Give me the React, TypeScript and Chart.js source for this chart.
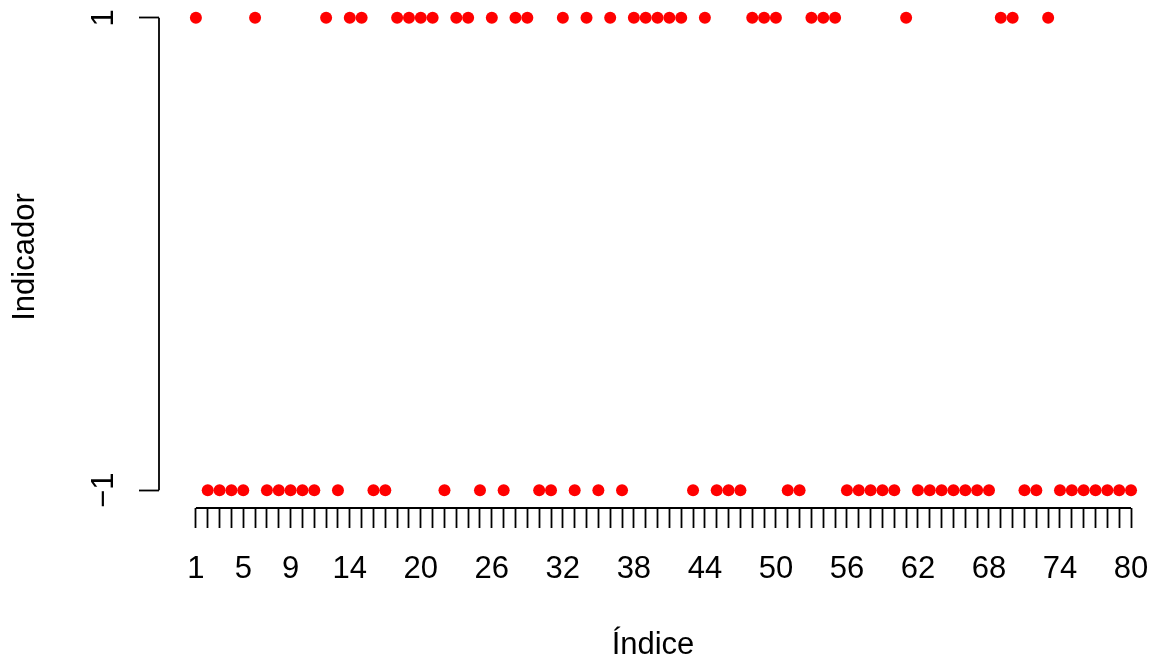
import React, { useEffect, useRef } from "react";
import { Chart, registerables } from "chart.js";

Chart.register(...registerables);

// Indicator value for each index 1..80
const indicatorValues: number[] = [
  1, -1, -1, -1, -1, 1, -1, -1, -1, -1,
  -1, 1, -1, 1, 1, -1, -1, 1, 1, 1,
  1, -1, 1, 1, -1, 1, -1, 1, 1, -1,
  -1, 1, -1, 1, -1, 1, -1, 1, 1, 1,
  1, 1, -1, 1, -1, -1, -1, 1, 1, 1,
  -1, -1, 1, 1, 1, -1, -1, -1, -1, -1,
  1, -1, -1, -1, -1, -1, -1, -1, 1, 1,
  -1, -1, 1, -1, -1, -1, -1, -1, -1, -1,
];
const xTickValues: number[] = Array.from({ length: 80 }, (_, i) => i + 1);
const xLabelsShown: number[] = [1, 5, 9, 14, 20, 26, 32, 38, 44, 50, 56, 62, 68, 74, 80];
const yTickValues: number[] = [-1, 1];
const yTickLabels: string[] = ["\u22121", "1"];

const FONT = "'Liberation Sans', Arial, Helvetica, sans-serif";
const FS = 31;
const LW = 1.8;

const axisPlugin = {
  id: "rAxes",
  afterDraw(chart: any) {
    const ctx = chart.ctx;
    const xs = chart.scales.x;
    const ys = chart.scales.y;
    ctx.save();
    ctx.strokeStyle = "#000";
    ctx.lineWidth = LW;
    const yb = chart.chartArea.bottom;
    ctx.beginPath();
    ctx.moveTo(xs.getPixelForValue(xTickValues[0]), yb);
    ctx.lineTo(xs.getPixelForValue(xTickValues[xTickValues.length - 1]), yb);
    ctx.stroke();
    const xl = chart.chartArea.left;
    ctx.beginPath();
    ctx.moveTo(xl, ys.getPixelForValue(yTickValues[0]));
    ctx.lineTo(xl, ys.getPixelForValue(yTickValues[yTickValues.length - 1]));
    ctx.stroke();
    ctx.fillStyle = "#000";
    ctx.font = `${FS}px ${FONT}`;
    ctx.textAlign = "center";
    ctx.textBaseline = "alphabetic";
    yTickValues.forEach((v, i) => {
      ctx.save();
      ctx.translate(xl - 46, ys.getPixelForValue(v));
      ctx.rotate(-Math.PI / 2);
      ctx.fillText(yTickLabels[i], 0, 0);
      ctx.restore();
    });
    ctx.restore();
  },
};

export default function App() {
  const ref = useRef<HTMLCanvasElement>(null);
  useEffect(() => {
    if (!ref.current) return;
    const chart = new Chart(ref.current, {
      type: "scatter",
      plugins: [axisPlugin],
      data: {
        datasets: [
          {
            data: indicatorValues.map((v, i) => ({ x: xTickValues[i], y: v })),
            backgroundColor: "#ff0000",
            borderWidth: 0,
            pointRadius: 6,
            pointHoverRadius: 6,
            clip: false as any,
          },
        ],
      },
      options: {
        animation: false,
        responsive: false,
        events: [],
        layout: { padding: { left: 0, right: 3, top: 0, bottom: 0 } },
        plugins: { legend: { display: false }, tooltip: { enabled: false } },
        scales: {
          x: {
            type: "linear",
            min: -2.118,
            max: 81.35,
            afterBuildTicks: (s: any) => {
              s.ticks = xTickValues.map((v) => ({ value: v }));
            },
            afterFit: (s: any) => {
              s.height = 151;
              s.paddingLeft = 0;
              s.paddingRight = 0;
              s.paddingTop = 0;
              s.paddingBottom = 0;
            },
            border: { display: false },
            grid: {
              drawOnChartArea: false,
              drawTicks: true,
              tickLength: 20,
              tickWidth: LW,
              tickColor: "#000",
            },
            ticks: {
              autoSkip: false,
              maxRotation: 0,
              minRotation: 0,
              padding: 23,
              color: "#000",
              font: { family: FONT, size: FS },
              callback: (v: any) => (xLabelsShown.includes(Number(v)) ? String(v) : ""),
            },
            title: {
              display: true,
              text: "Índice",
              color: "#000",
              font: { family: FONT, size: FS, lineHeight: 1 },
              padding: { top: 0, bottom: -2 },
            },
          },
          y: {
            type: "linear",
            min: -1.0753,
            max: 1.0499,
            afterBuildTicks: (s: any) => {
              s.ticks = yTickValues.map((v) => ({ value: v }));
            },
            afterFit: (s: any) => {
              s.width = 159;
              s.paddingLeft = 0;
              s.paddingRight = 0;
              s.paddingTop = 0;
              s.paddingBottom = 0;
            },
            border: { display: false },
            grid: {
              drawOnChartArea: false,
              drawTicks: true,
              tickLength: 20,
              tickWidth: LW,
              tickColor: "#000",
            },
            ticks: { display: false },
            title: {
              display: true,
              text: "Indicador",
              color: "#000",
              font: { family: FONT, size: FS, lineHeight: 1 },
              padding: { top: 10, bottom: 0 },
            },
          },
        },
      },
    });
    return () => chart.destroy();
  }, []);
  return (
    <div style={{ position: "absolute", left: 0, top: 0, width: 1153, height: 659, background: "#fff" }}>
      <canvas ref={ref} width={1153} height={659} style={{ display: "block" }} />
    </div>
  );
}
